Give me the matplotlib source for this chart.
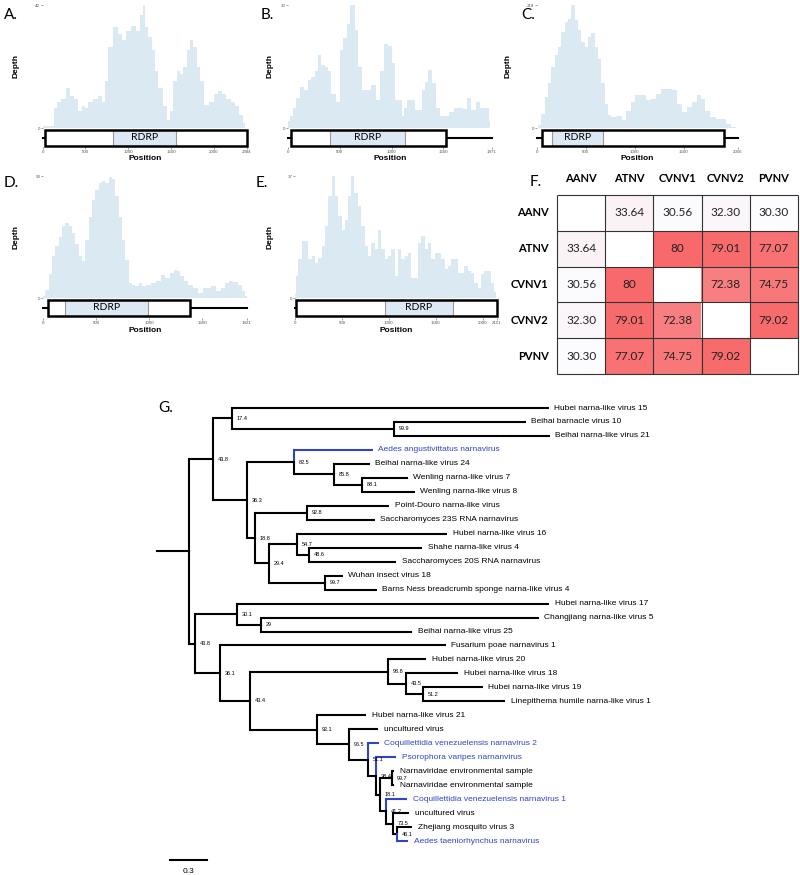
import numpy as np
import matplotlib
matplotlib.use('Agg')
import matplotlib.pyplot as plt
from matplotlib.patches import Rectangle
from matplotlib.colors import LinearSegmentedColormap

plt.rcParams['font.family'] = ['Liberation Sans', 'DejaVu Sans']

a_pos = [0, 125, 144, 183, 241, 300, 339, 397, 436, 475, 514, 553, 612, 670, 709, 748, 787, 845, 904, 943,
         1001, 1060, 1118, 1157, 1184, 1215, 1254, 1293, 1332, 1371, 1430, 1468, 1507, 1546, 1585, 1624,
         1663, 1702, 1741, 1780, 1819, 1858, 1916, 1975, 2033, 2072, 2111, 2170, 2228, 2267, 2325, 2364]
a_depth = [0.8, 0.8, 7, 9, 10, 13.6, 11, 10, 5.7, 7.5, 7, 9, 10, 11, 9, 16, 27.6, 34.5, 32, 30,
           33, 35, 33, 38.5, 42, 34.5, 31, 26.5, 19.6, 13.8, 7.5, 2.9, 5.7, 16, 19.6, 18.4,
           20.7, 26.5, 30, 27.6, 20.7, 16, 8, 9, 11.5, 12.7, 11.5, 10, 9, 7.5, 4.6, 1.7]

b_pos = [0, 32, 65, 97, 129, 178, 210, 242, 275, 307, 339, 372, 404, 436, 485, 517, 549, 582, 624, 662,
         695, 727, 775, 824, 872, 905, 947, 985, 1018, 1050, 1089, 1108, 1131, 1163, 1212, 1244, 1276,
         1309, 1341, 1373, 1405, 1454, 1486, 1535, 1583, 1616, 1664, 1712, 1745, 1793, 1842, 1874, 1922, 1955]
b_depth = [1.8, 3, 5, 7.2, 10, 9.2, 11.7, 12.5, 13.8, 17.9, 15.4, 15, 13.8, 8.4, 6.3, 19.1, 22, 25.3, 30, 24,
           15, 9.2, 9.2, 10.5, 6.8, 13.8, 20.4, 20, 15.8, 6.8, 6.8, 3, 5, 6.8, 6.8, 4.3, 4.3,
           9.2, 11.3, 14.2, 10.9, 5, 3, 3, 3.9, 5, 5, 4.7, 7.2, 4.3, 6.3, 5, 5, 1.8]

c_pos = [0, 27, 61, 95, 130, 164, 198, 232, 266, 300, 334, 368, 402, 437, 471, 505, 539, 573, 607, 641,
         675, 709, 743, 777, 846, 897, 931, 982, 1033, 1084, 1136, 1187, 1238, 1289, 1357, 1408, 1460,
         1511, 1562, 1613, 1664, 1698, 1749, 1800, 1852, 1903, 1954, 2005, 2056]
c_depth = [0, 4.7, 25, 55, 79, 108, 129, 144, 171, 188, 194, 218, 191, 174, 153, 144, 162, 168, 144, 123,
           79, 43, 22.5, 19.5, 21, 13.6, 31, 46, 58, 58, 49, 52, 61, 70, 70, 67, 43,
           28, 37, 46, 58, 52, 31, 19.5, 16.6, 16.6, 7.7, 1.8, 0]

d_pos = [0, 38, 69, 100, 132, 163, 195, 226, 257, 289, 320, 352, 383, 414, 446, 477, 509, 540, 571, 603,
         634, 665, 697, 728, 760, 791, 822, 854, 885, 917, 948, 995, 1042, 1089, 1136, 1168, 1215, 1246,
         1278, 1309, 1340, 1387, 1435, 1482, 1529, 1560, 1607, 1654, 1701, 1733, 1764, 1811, 1858, 1890, 1921]
d_depth = [1.2, 6, 18, 31, 38, 45, 53, 55, 53, 48, 40, 31, 27, 43, 60, 72, 80, 85, 86, 85,
           89, 88, 75, 60, 43, 28, 11, 9.8, 8.6, 11, 9, 9.8, 11, 12.3, 17, 14.7, 18.4, 21,
           19.6, 16, 12.3, 9.8, 7.4, 3.7, 7.4, 7.4, 8.6, 4.9, 7.4, 11, 12.3, 11.5, 9.8, 4.9, 1.2]

e_pos = [0, 18, 53, 88, 124, 159, 195, 230, 265, 301, 336, 371, 407, 442, 478, 513, 548, 584, 612, 655,
         690, 725, 761, 796, 831, 867, 902, 938, 973, 1008, 1044, 1079, 1114, 1150, 1185, 1221, 1256,
         1291, 1327, 1362, 1397, 1433, 1468, 1504, 1539, 1575, 1610, 1645, 1681, 1716, 1751, 1787, 1822,
         1857, 1893, 1928, 1964, 1999, 2034, 2069, 2105, 2140]
e_depth = [0.5, 3, 5.4, 7.9, 7.9, 5.4, 5.8, 4.9, 5.6, 7.2, 10, 14.2, 17, 14.2, 11.4, 9.5, 10.9, 14.2, 17, 14.7,
           12.8, 10, 7.2, 5.8, 7.7, 6.8, 9.5, 6.8, 5.4, 5.8, 6.8, 3, 6.8, 5.4, 5.8, 6.3, 2.8,
           2.8, 7.7, 8.6, 6.8, 7.7, 5.4, 6.3, 6.3, 5.4, 4, 4.4, 5.4, 5.4, 3.5, 3.5, 4.4,
           3.7, 3.5, 2.1, 1.4, 3.3, 3.7, 3.7, 2.1, 0.9]

genome_len = [2384, 1971, 2056, 1921, 2151]
depth_max = [42, 30, 218, 90, 17]
orf = [(27, 2384), (32, 1528), (55, 1909), (44, 1381), (11, 2151)]
rdrp = [(826, 1558), (410, 1131), (153, 675), (204, 989), (962, 1680)]

## identity matrix (panel F)
virus = ['AANV', 'ATNV', 'CVNV1', 'CVNV2', 'PVNV']
identity = [[np.nan, 33.64, 30.56, 32.30, 30.30],
            [33.64, np.nan, 80, 79.01, 77.07],
            [30.56, 80, np.nan, 72.38, 74.75],
            [32.30, 79.01, 72.38, np.nan, 79.02],
            [30.30, 77.07, 74.75, 79.02, np.nan]]

## tree (panel G), newick with support values and branch lengths
newick = ("(((Hubei narna-like virus 15:2.577,(Beihai barnacle virus 10:1.073,Beihai narna-like virus 21:1.268)99.9:1.317)17.4:0.154,"
          "((Aedes angustivittatus narnavirus:0.642,(Beihai narna-like virus 24:0.293,(Wenling narna-like virus 7:0.374,"
          "Wenling narna-like virus 8:0.431)88.1:0.228)85.8:0.325)82.5:0.382,"
          "((Point-Douro narna-like virus:0.667,Saccharomyces 23S RNA narnavirus:0.553)92.8:0.423,"
          "((Hubei narna-like virus 16:1.220,(Shahe narna-like virus 4:0.919,Saccharomyces 20S RNA narnavirus:0.707)48.6:0.098)54.7:0.228,"
          "(Wuhan insect virus 18:0.146,Barns Ness breadcrumb sponge narna-like virus 4:0.423)99.7:0.455)29.4:0.114)18.8:0.065)36.3:0.276)43.8:0.195,"
          "((Hubei narna-like virus 17:2.537,(Changjiang narna-like virus 5:2.260,Beihai narna-like virus 25:1.228)29:0.195)30.1:0.341,"
          "(Fusarium poae narnavirus 1:1.837,((Hubei narna-like virus 20:0.309,(Hubei narna-like virus 18:0.423,"
          "(Hubei narna-like virus 19:0.488,Linepithema humile narna-like virus 1:0.667)51.2:0.138)43.5:0.146)98.8:1.122,"
          "(Hubei narna-like virus 21:0.398,(uncultured virus:0.236,(Coquillettidia venezuelensis narnavirus 2:0.089,"
          "(Psorophora varipes narnanvirus:0.163,((Narnaviridae environmental sample:0.016,Narnaviridae environmental sample:0.016)99.7:0.098,"
          "(Coquillettidia venezuelensis narnavirus 1:0.171,(uncultured virus:0.130,(Zhejiang mosquito virus 3:0.122,"
          "Aedes taeniorhynchus narnavirus:0.089)46.1:0.033)73.5:0.057)41.2:0.049)18.1:0.033)38.4:0.065)51.1:0.154)96.5:0.260)92.1:0.545)43.4:0.244)36.1:0.203)43.8:0.049):0.260;")
mosquito = ['Aedes angustivittatus narnavirus', 'Coquillettidia venezuelensis narnavirus 2',
            'Psorophora varipes narnanvirus', 'Coquillettidia venezuelensis narnavirus 1',
            'Aedes taeniorhynchus narnavirus']

W, H = 800, 875
fig = plt.figure(figsize=(8, 8.75), dpi=100)
fill_col = '#dbeaf2'
rdrp_col = '#dce8f4'
blue = '#2f45c8'


def px_axes(x0, y0, x1, y1):
    return fig.add_axes([x0 / W, 1 - y1 / H, (x1 - x0) / W, (y1 - y0) / H])


#Coverage panels
panel_box = [(42.7, 246.7, 5, 128, 147), (288, 492, 5, 128, 147), (537, 738, 5, 128, 147),
             (43, 247, 176, 298, 318), (295, 497, 176, 298, 318)]
coverage = [(a_pos, a_depth), (b_pos, b_depth), (c_pos, c_depth), (d_pos, d_depth), (e_pos, e_depth)]
letters = [('A.', 4, 15), ('B.', 261, 15), ('C.', 521, 15), ('D.', 4, 183), ('E.', 256, 183)]
depth_x = [20, 273, 512, 20, 273]

for i in range(5):
    left, right, top, zero, bottom = panel_box[i]
    L = genome_len[i]
    ymax = depth_max[i]
    pos, depth = coverage[i]
    ax = px_axes(left, top, right, bottom)
    ax.set_xlim(0, L)
    ax.set_ylim(-ymax * (bottom - zero) / (zero - top), ymax)
    ax.fill_between(pos, depth, step='mid', color=fill_col, lw=0, zorder=1)
    tr = ax.get_xaxis_transform()
    f = lambda ypx: (bottom - ypx) / (bottom - top)
    y0, y1 = f(zero + 17.5), f(zero + 1.5)
    ym = (y0 + y1) / 2
    ax.plot([0, L], [ym, ym], transform=tr, color='k', lw=1.5, clip_on=False, zorder=2)
    ax.add_patch(Rectangle((orf[i][0], y0), orf[i][1] - orf[i][0], y1 - y0, transform=tr,
                           fc='white', ec='none', clip_on=False, zorder=3))
    ax.add_patch(Rectangle((rdrp[i][0], y0), rdrp[i][1] - rdrp[i][0], y1 - y0, transform=tr,
                           fc=rdrp_col, ec='#9a9a9a', lw=0.8, clip_on=False, zorder=4))
    ax.add_patch(Rectangle((orf[i][0], y0), orf[i][1] - orf[i][0], y1 - y0, transform=tr,
                           fc='none', ec='k', lw=1.8, clip_on=False, zorder=5))
    ax.text((rdrp[i][0] + rdrp[i][1]) / 2, ym, 'RDRP', transform=tr, ha='center', va='center',
            fontsize=7.5, family='Lato', zorder=6)
    xt = [t for t in [0, 500, 1000, 1500, 2000] if t < L - 100] + [L]
    ax.set_xticks(xt)
    ax.set_xticklabels([str(t) for t in xt])
    ax.set_yticks([0, ymax])
    ax.set_yticklabels(['0', str(ymax)])
    ax.tick_params(labelsize=3.2, length=1.5, width=0.4, colors='#555555', pad=0.4)
    for s in ax.spines.values():
        s.set_visible(False)
    ax.set_xlabel('Position', fontsize=6, fontweight='bold')
    ax.xaxis.set_label_coords(0.5, -8.5 / (bottom - top))
    ax.set_ylabel('Depth', fontsize=6, fontweight='bold')
    ax.yaxis.set_label_coords(-(left - depth_x[i]) / (right - left), (bottom - (zero + top) / 2) / (bottom - top))
    lt, lx, ly = letters[i]
    fig.text(lx / W, 1 - ly / H, lt, fontsize=11, family='Lato', va='center', ha='left')

#Identity heatmap
ax = px_axes(557, 195, 798, 374)
vals = np.array(identity, dtype=float)
cmap = LinearSegmentedColormap.from_list('wr', ['#fcfcff', '#f8696b'])
cmap.set_bad('white')
ax.imshow(np.ma.masked_invalid(vals), cmap=cmap, vmin=np.nanmin(vals), vmax=np.nanmax(vals),
          aspect='auto', interpolation='nearest')
n = len(virus)
ax.hlines(np.arange(n + 1) - 0.5, -0.5, n - 0.5, color='#333333', lw=0.8, clip_on=False)
ax.vlines(np.arange(n + 1) - 0.5, -0.5, n - 0.5, color='#333333', lw=0.8, clip_on=False)
for r in range(n):
    for c in range(n):
        v = vals[r, c]
        if np.isnan(v):
            continue
        txt = str(int(v)) if v == int(v) else f'{v:.2f}'
        ax.text(c, r, txt, ha='center', va='center', fontsize=8.5, family='Lato', color='#222222')
    ax.text(r, -0.97, virus[r], ha='center', va='center', fontsize=8, family='Lato', fontweight='bold')
    ax.text(-0.67, r, virus[r], ha='right', va='center', fontsize=8, family='Lato', fontweight='bold')
ax.set_xlim(-0.5, n - 0.5)
ax.set_ylim(n - 0.5, -0.5)
ax.axis('off')
fig.text(530 / W, 1 - 182 / H, 'F.', fontsize=11, family='Lato', va='center', ha='left')


#Phylogenetic tree
def parse_newick(s):
    s = s.strip().rstrip(';')
    i = 0

    def node():
        nonlocal i
        kids = []
        if s[i] == '(':
            i += 1
            kids.append(node())
            while s[i] == ',':
                i += 1
                kids.append(node())
            i += 1
        j = i
        while i < len(s) and s[i] not in ':,)':
            i += 1
        name = s[j:i].strip()
        blen = 0.0
        if i < len(s) and s[i] == ':':
            i += 1
            j = i
            while i < len(s) and s[i] not in ',)':
                i += 1
            blen = float(s[j:i])
        return {'name': name, 'len': blen, 'kids': kids}

    return node()


tree = parse_newick(newick)
leaf_count = [0]


def layout(nd, x0):
    nd['x'] = x0 + nd['len']
    if not nd['kids']:
        nd['y'] = leaf_count[0]
        leaf_count[0] += 1
    else:
        for k in nd['kids']:
            layout(k, nd['x'])
        nd['y'] = (nd['kids'][0]['y'] + nd['kids'][-1]['y']) / 2


layout(tree, 0.0)

ax = px_axes(150, 395, 800, 875)
ppu = 123.0
dy = 13.97
ax.set_xlim((150 - 157) / ppu, (800 - 157) / ppu)
ax.set_ylim((875 - 408) / dy, (395 - 408) / dy)
ax.axis('off')
lw = 1.5


def draw(nd):
    for k in nd['kids']:
        col = blue if (not k['kids'] and k['name'] in mosquito) else 'black'
        ax.plot([nd['x'], nd['x']], [nd['y'], k['y']], color=col, lw=lw, solid_capstyle='projecting')
        ax.plot([nd['x'], k['x']], [k['y'], k['y']], color=col, lw=lw, solid_capstyle='butt')
        draw(k)
    if nd['kids']:
        if nd['name']:
            ax.text(nd['x'] + 0.04, nd['y'], nd['name'], fontsize=4, va='center', ha='left')
    else:
        col = blue if nd['name'] in mosquito else 'black'
        ax.text(nd['x'] + 0.045, nd['y'], nd['name'], fontsize=6, va='center', ha='left', color=col)


ax.plot([0, tree['x']], [tree['y'], tree['y']], color='black', lw=lw)
draw(tree)

# scale bar
sb_x = (170 - 157) / ppu
sb_y = (860 - 408) / dy
ax.plot([sb_x, sb_x + 0.3], [sb_y, sb_y], color='black', lw=lw)
ax.text(sb_x + 0.15, sb_y + 0.8, '0.3', fontsize=6, ha='center', va='center')
fig.text(158 / W, 1 - 408 / H, 'G.', fontsize=11, family='Lato', va='center', ha='left')

fig.savefig('out.png', dpi=100)
